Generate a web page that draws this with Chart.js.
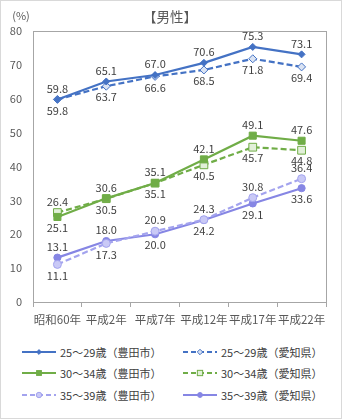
<!DOCTYPE html>
<html lang="ja">
<head>
<meta charset="utf-8">
<script src="https://cdn.jsdelivr.net/npm/chart.js@4.4.1/dist/chart.umd.min.js"></script>
<style>
    body { margin: 0; background: #fff; }
    #wrap { position: relative; width: 342px; height: 419px; font-family: "Noto Sans CJK JP", sans-serif; }
    #chart { position: absolute; left: 0; top: 0; }
    #border { position: absolute; left: 0; top: 0; width: 342px; height: 419px; box-sizing: border-box; border: 1px solid #d9d9d9; pointer-events: none; }
    .lg { position: absolute; height: 16px; line-height: 16px; font-size: 11px; color: #404040; white-space: nowrap; }
    .lg svg { position: absolute; top: 2px; }
    .lg span { position: absolute; top: 0; }
</style>
</head>
<body>
<div id="wrap">
    <canvas id="chart" width="342" height="335"></canvas>
    <div id="legend"></div>
    <div id="border"></div>
</div>
<script>
var categories = ["昭和60年", "平成2年", "平成7年", "平成12年", "平成17年", "平成22年"];
var seriesNames = ["25〜29歳（豊田市）", "25〜29歳（愛知県）", "30〜34歳（豊田市）", "30〜34歳（愛知県）", "35〜39歳（豊田市）", "35〜39歳（愛知県）"];
var toyota25 = [59.8, 65.1, 67.0, 70.6, 75.3, 73.1];
var aichi25 = [59.8, 63.7, 66.6, 68.5, 71.8, 69.4];
var toyota30 = [25.1, 30.6, 35.1, 42.1, 49.1, 47.6];
var aichi30 = [26.4, 30.5, 35.1, 40.5, 45.7, 44.8];
var toyota35 = [11.1, 17.3, 20.9, 24.3, 30.8, 36.4];
var aichi35 = [13.1, 18.0, 20.0, 24.2, 29.1, 33.6];
var yTicks = [0, 10, 20, 30, 40, 50, 60, 70, 80];

var FONT = '"Noto Sans CJK JP", sans-serif';
var dash = [6, 3];

function series(i, values, color, dashed, shape, radius, fill) {
    return {
        label: seriesNames[i],
        data: values,
        borderColor: color,
        borderWidth: 2.2,
        borderDash: dashed ? dash : [],
        pointStyle: shape,
        pointRadius: radius,
        pointBackgroundColor: fill,
        pointBorderColor: color,
        pointBorderWidth: 1,
        tension: 0,
        fill: false
    };
}

var datasets = [
    series(0, toyota25, "#4472c4", false, "rectRot", 3.5, "#4472c4"),
    series(1, aichi25, "#4472c4", true, "rectRot", 4, "#dae3f3"),
    series(2, toyota30, "#70ad47", false, "rect", 5, "#70ad47"),
    series(3, aichi30, "#70ad47", true, "rect", 5.5, "#e2f0d9"),
    series(4, toyota35, "#a3a3ee", true, "circle", 4, "#c9c9f6"),
    series(5, aichi35, "#8686e4", false, "circle", 3.6, "#8686e4")
];

// label pairs: first one goes on top when equal
var labelPairs = [[0, 1], [2, 3], [5, 4]];

var pairLabels = {
    id: "pairLabels",
    afterDatasetsDraw: function (chart) {
        var ctx = chart.ctx;
        ctx.save();
        ctx.font = "11px " + FONT;
        ctx.fillStyle = "#404040";
        ctx.textAlign = "center";
        ctx.textBaseline = "middle";
        labelPairs.forEach(function (pair) {
            var ma = chart.getDatasetMeta(pair[0]);
            var mb = chart.getDatasetMeta(pair[1]);
            var da = chart.data.datasets[pair[0]].data;
            var db = chart.data.datasets[pair[1]].data;
            for (var i = 0; i < da.length; i++) {
                var up = da[i] >= db[i];
                ctx.fillText(da[i].toFixed(1), ma.data[i].x, ma.data[i].y + (up ? -11 : 11));
                ctx.fillText(db[i].toFixed(1), mb.data[i].x, mb.data[i].y + (up ? 11 : -11));
            }
        });
        ctx.restore();
    }
};

var frame = {
    id: "frame",
    beforeDatasetsDraw: function (chart) {
        var a = chart.chartArea;
        var ctx = chart.ctx;
        ctx.save();
        ctx.strokeStyle = "#a6a6a6";
        ctx.lineWidth = 1;
        ctx.strokeRect(Math.round(a.left) + 0.5, Math.round(a.top) + 0.5, Math.round(a.right - a.left), Math.round(a.bottom - a.top));
        ctx.restore();
    },
    afterDraw: function (chart) {
        var ctx = chart.ctx;
        ctx.save();
        ctx.fillStyle = "#595959";
        ctx.textAlign = "center";
        ctx.textBaseline = "middle";
        ctx.font = "13.5px " + FONT;
        ctx.fillText("【男性】", 170, 17);
        ctx.font = "11px " + FONT;
        ctx.fillText("(%)", 21, 16);
        ctx.restore();
    }
};

new Chart(document.getElementById("chart"), {
    type: "line",
    data: { labels: categories, datasets: datasets },
    options: {
        responsive: false,
        animation: false,
        layout: { padding: { top: 31, right: 16, left: 0, bottom: 0 } },
        plugins: { legend: { display: false }, tooltip: { enabled: false } },
        scales: {
            x: {
                offset: true,
                grid: { offset: true, drawOnChartArea: false, drawTicks: true, tickLength: 5, color: "#a6a6a6" },
                border: { display: false },
                ticks: { color: "#595959", font: { size: 11.5, family: FONT }, padding: 6, maxRotation: 0, autoSkip: false },
                afterFit: function (s) { s.height = 33; }
            },
            y: {
                min: 0,
                max: 80,
                afterBuildTicks: function (s) { s.ticks = yTicks.map(function (v) { return { value: v }; }); },
                grid: { display: false, drawTicks: false },
                border: { display: false },
                ticks: { color: "#595959", font: { size: 11, family: FONT }, padding: 11 },
                afterFit: function (s) { s.width = 33; }
            }
        }
    },
    plugins: [pairLabels, frame]
});

// legend in html, two columns
var legendRows = [352, 373, 395];
var legendCols = [22, 183];
var legendBox = document.getElementById("legend");
datasets.forEach(function (ds, i) {
    var x = legendCols[i % 2];
    var y = legendRows[Math.floor(i / 2)];
    var mark = "";
    var c = ds.borderColor;
    var r = ds.pointRadius * 0.68;
    if (ds.pointStyle === "rectRot") {
        mark = '<polygon points="17,' + (6 - r) + ' ' + (17 + r) + ',6 17,' + (6 + r) + ' ' + (17 - r) + ',6" fill="' + ds.pointBackgroundColor + '" stroke="' + c + '"/>';
    } else if (ds.pointStyle === "rect") {
        var h = r * Math.SQRT1_2;
        mark = '<rect x="' + (17 - h) + '" y="' + (6 - h) + '" width="' + 2 * h + '" height="' + 2 * h + '" fill="' + ds.pointBackgroundColor + '" stroke="' + c + '"/>';
    } else {
        mark = '<circle cx="17" cy="6" r="' + r + '" fill="' + ds.pointBackgroundColor + '" stroke="' + c + '"/>';
    }
    var item = document.createElement("div");
    item.className = "lg";
    item.style.left = x + "px";
    item.style.top = (y - 8) + "px";
    item.innerHTML = '<svg width="34" height="12" style="left:0"><line x1="0" y1="6" x2="34" y2="6" stroke="' + c +
        '" stroke-width="2"' + (ds.borderDash.length ? ' stroke-dasharray="5 3"' : '') + '/>' + mark + '</svg>' +
        '<span style="left:38px">' + ds.label + '</span>';
    legendBox.appendChild(item);
});
</script>
</body>
</html>
